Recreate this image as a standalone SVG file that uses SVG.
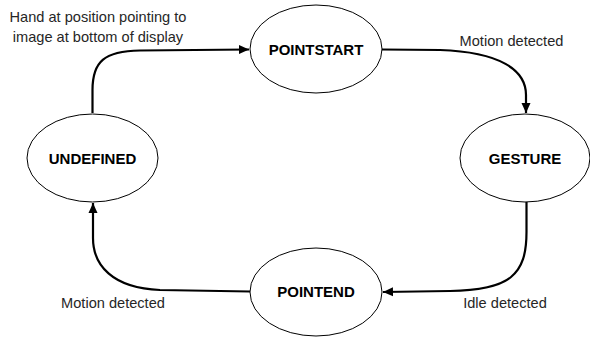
<svg xmlns="http://www.w3.org/2000/svg" width="590" height="337" viewBox="0 0 590 337">
<style>
.node ellipse{fill:#fff;stroke:#000;stroke-width:1}
.node text{font-family:"Liberation Sans",Arial,sans-serif;font-weight:bold;font-size:15px;fill:#000;text-anchor:middle}
.lbl{font-family:"Liberation Sans",Arial,sans-serif;font-size:14.6px;fill:#262626}
.edge{fill:none;stroke:#000;stroke-width:2.2}
</style>
<defs>
<marker id="arr" markerUnits="userSpaceOnUse" markerWidth="12" markerHeight="10" refX="10" refY="5" orient="auto">
<path d="M0,0.5 L10,5 L0,9.5 Z" fill="#000"/>
</marker>
</defs>
<rect width="590" height="337" fill="#fff"/>
<g id="connectors">
<path class="edge" d="M92.5,113 L92.5,90 C92.5,62 104,51 140,50.5 L249,49.5" marker-end="url(#arr)"/>
<path class="edge" d="M382,49.5 L440,50 C500,52 526,70 526,95 L526,113" marker-end="url(#arr)"/>
<path class="edge" d="M526.5,202 L526.5,232 C526.5,275 510,290 450,291 L383,292" marker-end="url(#arr)"/>
<path class="edge" d="M250,291.5 L160,290 C112,288 93,265 93,238 L93,203" marker-end="url(#arr)"/>
</g>
<g id="pointstart" class="node">
<ellipse cx="316" cy="49" rx="66" ry="44"/>
<text x="316" y="55">POINTSTART</text>
</g>
<g id="gesture" class="node">
<ellipse cx="525" cy="158" rx="65" ry="44"/>
<text x="525" y="163.5">GESTURE</text>
</g>
<g id="undefined" class="node">
<ellipse cx="92.5" cy="158" rx="65.5" ry="44"/>
<text x="92.5" y="163.5">UNDEFINED</text>
</g>
<g id="pointend" class="node">
<ellipse cx="316" cy="292" rx="66" ry="44"/>
<text x="316" y="296.5">POINTEND</text>
</g>
<g id="labels">
<text class="lbl" x="98" y="22" text-anchor="middle">Hand at position pointing to</text>
<text class="lbl" x="98" y="42" text-anchor="middle">image at bottom of display</text>
<text class="lbl" x="511.5" y="45.5" text-anchor="middle">Motion detected</text>
<text class="lbl" x="505" y="308" text-anchor="middle">Idle detected</text>
<text class="lbl" x="113" y="308" text-anchor="middle">Motion detected</text>
</g>
</svg>
